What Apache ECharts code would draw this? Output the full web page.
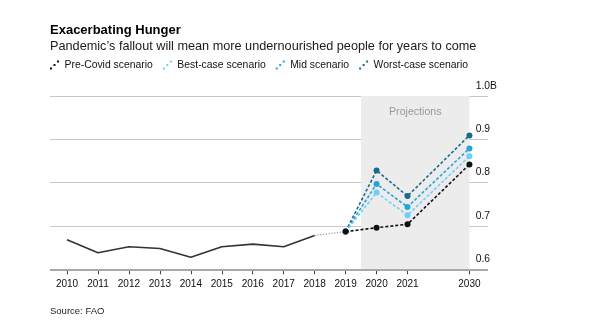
<!DOCTYPE html>
<html>
<head>
<meta charset="utf-8">
<script src="https://cdn.jsdelivr.net/npm/echarts@6/dist/echarts.min.js"></script>
<style>
html,body{margin:0;padding:0;background:#fff;}
#c{width:599px;height:334px;}
</style>
</head>
<body>
<div id="c"></div>
<script>
// Categories (empty slot keeps the gap between 2021 and 2030)
const categories = ['2010','2011','2012','2013','2014','2015','2016','2017','2018','2019','2020','2021','','2030'];
// Historical (billions)
const histYears = ['2010','2011','2012','2013','2014','2015','2016','2017','2018'];
const histValues = [0.668, 0.638, 0.652, 0.648, 0.628, 0.652, 0.658, 0.652, 0.678];
const bridgeYears = ['2018','2019'];
const bridgeValues = [0.678, 0.687];
// Projections
const projYears = ['2019','2020','2021','2030'];
const preCovid = [0.687, 0.696, 0.704, 0.842];
const bestCase = [0.687, 0.777, 0.725, 0.861];
const midCase  = [0.687, 0.797, 0.744, 0.879];
const worstCase= [0.687, 0.828, 0.769, 0.909];
const projStart = '2019', projEnd = '2030';

const idx = y => categories.indexOf(y);
const pairs = (yrs, vals) => yrs.map((y,i)=>[idx(y), vals[i]]);
const tickPos = categories.map((c,i)=> c ? i : null).filter(v=>v!==null);

const FONT = '"Liberation Sans", Arial, Helvetica, sans-serif';
const icon = 'path://M0,10L2.2,10L2.2,7.8L0,7.8Z M3.9,6.1L6.1,6.1L6.1,3.9L3.9,3.9Z M7.8,2.2L10,2.2L10,0L7.8,0Z';

const chart = echarts.init(document.getElementById('c'), null, {renderer:'canvas'});
const dashed = (color) => ({color, width:1.6, type:[3,2]});
const scen = (name, vals, color, z) => ({
  name, type:'line', data: pairs(projYears, vals), symbol:'circle', symbolSize:6,
  itemStyle:{color}, lineStyle:dashed(color), z, silent:true, animation:false
});

chart.setOption({
  animation:false,
  textStyle:{fontFamily:FONT},
  title:[
    {text:'Exacerbating Hunger', left:45, top:19, textStyle:{fontFamily:FONT, fontSize:13, fontWeight:'bold', color:'#000'}},
    {text:'Pandemic\u2019s fallout will mean more undernourished people for years to come', left:45, top:35, textStyle:{fontFamily:FONT, fontSize:12.7, fontWeight:'normal', color:'#1a1a1a'}},
    {text:'Source: FAO', left:45, top:301, textStyle:{fontFamily:FONT, fontSize:9.5, fontWeight:'normal', color:'#222'}}
  ],
  legend:{
    left:45, top:55, itemWidth:10, itemHeight:9, itemGap:10,
    icon: icon,
    textStyle:{fontFamily:FONT, fontSize:10.4, color:'#111'},
    data:['Pre-Covid scenario','Best-case scenario','Mid scenario','Worst-case scenario'],
    selectedMode:false
  },
  grid:{left:50, right:111, top:96, bottom:64.7, containLabel:false},
  xAxis:{
    type:'value', min:-0.55, max:13.6,
    axisLine:{show:false},
    splitLine:{show:false},
    axisTick:{show:true, customValues:tickPos, length:5, lineStyle:{color:'#444', width:1}},
    axisLabel:{customValues:tickPos, formatter:v=>categories[Math.round(v)], fontFamily:FONT, fontSize:10, color:'#111', margin:10}
  },
  yAxis:{
    type:'value', position:'right', min:0.6, max:1.0, interval:0.1,
    axisLine:{show:false}, axisTick:{show:false},
    splitLine:{show:true, lineStyle:{color:'#c8c8c8', width:1.2}},
    axisLabel:{
      formatter:v=> Math.abs(v-1)<1e-9 ? '1.0B' : v.toFixed(1),
      fontFamily:FONT, fontSize:10.3, color:'#111', align:'left', margin:-12.3,
      verticalAlign:'bottom', lineHeight:20
    }
  },
  series:[
    {type:'line', data:[], silent:true, z:0,
     markArea:{silent:true, itemStyle:{color:'#ececec'},
       label:{show:true, position:'insideTop', distance:11, color:'#999', fontFamily:FONT, fontSize:10.6},
       data:[[{name:'Projections', xAxis: idx(projStart)+0.5, yAxis:1.0},{xAxis: idx(projEnd), yAxis:0.6}]]}},
    {type:'line', name:'axisbase', data:[], silent:true, z:1,
     markLine:{silent:true, symbol:'none', label:{show:false}, lineStyle:{color:'#a8a8a8', width:1.8, type:'solid'},
       data:[{yAxis:0.6}]}},
    {type:'line', data:pairs(histYears, histValues), symbol:'none', lineStyle:{color:'#333', width:1.6}, z:3},
    {type:'line', data:pairs(bridgeYears, bridgeValues), symbol:'none', lineStyle:{color:'#999', width:1.2, type:[1.2,1.6]}, z:3},
    scen('Worst-case scenario', worstCase, '#1b6a8d', 4),
    scen('Mid scenario', midCase, '#27a2dd', 5),
    scen('Best-case scenario', bestCase, '#6dd0f7', 6),
    scen('Pre-Covid scenario', preCovid, '#111111', 7)
  ]
});
</script>
</body>
</html>
